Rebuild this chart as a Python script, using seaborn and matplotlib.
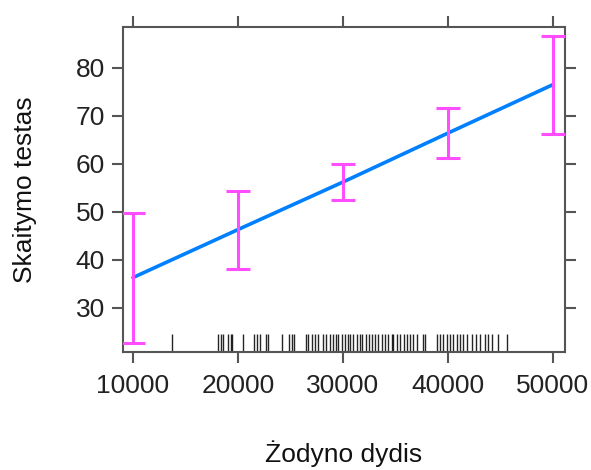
import matplotlib
matplotlib.use("Agg")
import matplotlib.pyplot as plt
import seaborn as sns
import numpy as np
import pandas as pd

# Effect values
x_levels = [10000, 20000, 30000, 40000, 50000]
fit = [36.3, 46.3, 56.2, 66.4, 76.5]
lower = [22.7, 38.1, 52.5, 61.2, 66.2]
upper = [49.8, 54.4, 60.0, 71.7, 86.7]

# Rug (observed vocabulary sizes)
rug_x = [13686, 18124, 18381, 18600, 19076, 19305, 19457, 20448, 21524, 21781,
         22095, 22667, 22886, 24219, 24857, 25114, 25362, 26448, 26638, 27019,
         27333, 27648, 28067, 28352, 28762, 29076, 29305, 29552, 29876, 30190,
         30448, 30667, 30981, 31305, 31619, 31838, 32162, 32476, 32733, 33048,
         33362, 33686, 34000, 34314, 34638, 34790, 35114, 35429, 35810, 36124,
         36381, 36695, 37019, 37590, 37810, 38924, 39238, 39552, 39876, 40190,
         40505, 40829, 41143, 41457, 41838, 42257, 42667, 43048, 43524, 43838,
         44162, 44790, 45590]

x_ticks = [10000, 20000, 30000, 40000, 50000]
y_ticks = [30, 40, 50, 60, 70, 80]
x_label = "Żodyno dydis"
y_label = "Skaitymo testas"

sns.set_style("white")
plt.rcParams['font.family'] = ['Liberation Sans', 'DejaVu Sans']

fig = plt.figure(figsize=(5.91, 4.70), dpi=100)
ax = fig.add_axes([0.2081, 0.2511, 0.9560 - 0.2081, 0.9426 - 0.2511])

df = pd.DataFrame({"x": x_levels, "fit": fit, "lower": lower, "upper": upper})

sns.lineplot(data=df, x="x", y="fit", ax=ax, color="#0080ff", lw=2.6)
ax.errorbar(df["x"], df["fit"],
            yerr=[df["fit"] - df["lower"], df["upper"] - df["fit"]],
            fmt="none", ecolor="#ff4dff", elinewidth=2.2, capsize=8.5, capthick=2.2,
            zorder=3)
sns.rugplot(x=rug_x, ax=ax, height=0.055, color="black", lw=1.0, alpha=0.85)

ax.set_xlim(9048, 51143)
ax.set_ylim(20.8, 88.5)
ax.set_xticks(x_ticks)
ax.set_yticks(y_ticks)
ax.set_xticklabels([str(v) for v in x_ticks])
ax.set_yticklabels([str(v) for v in y_ticks])

axis_col = "#555555"
for s in ax.spines.values():
    s.set_visible(True)
    s.set_color(axis_col)
    s.set_linewidth(1.5)

ax.tick_params(axis="both", which="both", direction="out", length=8, width=1.5,
               color=axis_col, labelsize=19, labelcolor="#222222",
               top=True, right=True, bottom=True, left=True,
               labeltop=False, labelright=False)
ax.tick_params(axis="x", pad=8)
ax.tick_params(axis="y", pad=5)

ax.set_xlabel(x_label, fontsize=19, color="#111111", labelpad=30)
ax.set_ylabel(y_label, fontsize=19, color="#111111", labelpad=28)

fig.savefig("out.png", dpi=100)
